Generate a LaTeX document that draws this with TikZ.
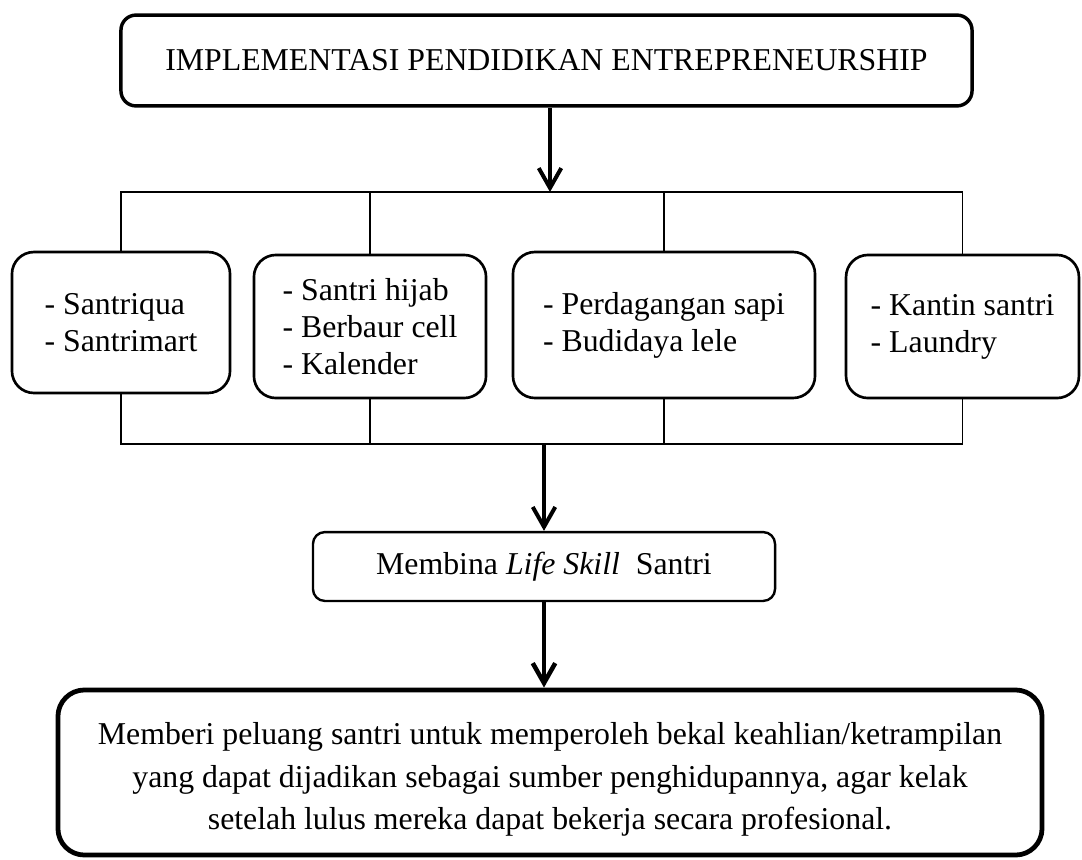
\documentclass[tikz,border=0pt]{standalone}
\usepackage{fontspec}
\setmainfont{Liberation Serif}
\usetikzlibrary{arrows.meta}
\begin{document}
\begin{tikzpicture}[x=0.3774pt,y=-0.3774pt,
		teks/.style={font=\fontsize{12}{14}\selectfont},
		kotak/.style={draw,teks,rounded corners=8.3pt,line width=1pt,inner sep=0pt,align=left},
		panah/.style={-{Straight Barb[length=7.5pt,width=8.5pt]},line width=1.5pt},
		garis/.style={line width=0.6pt}]
	\useasboundingbox[fill=white] (0,0) rectangle (1082,860);
	% kotak utama
	\node[draw,teks,rounded corners=5.7pt,line width=1.3pt,minimum width=321.2pt,minimum height=34.3pt] (utama) at (546.5,60.5) {IMPLEMENTASI PENDIDIKAN ENTREPRENEURSHIP};
	% kegiatan usaha
	\node[kotak,minimum width=82.3pt,minimum height=53.2pt] (usaha1) at (121,322.5) {- Santriqua\\- Santrimart};
	\node[kotak,minimum width=87.6pt,minimum height=54pt] (usaha2) at (370,326.5) {- Santri hijab\\- Berbaur cell\\- Kalender};
	\node[kotak,minimum width=114pt,minimum height=55.1pt] (usaha3) at (664,325) {- Perdagangan sapi\\- Budidaya lele};
	\node[kotak,minimum width=87.9pt,minimum height=54pt] (usaha4) at (962.5,326.5) {- Kantin santri\\- Laundry};
	% hasil
	\node[draw,teks,rounded corners=4.5pt,line width=0.9pt,minimum width=174.4pt,minimum height=26pt] (bina) at (544,566.5) {Membina \textit{Life Skill}~ Santri};
	\node[draw,teks,rounded corners=10pt,line width=1.8pt,minimum width=371.4pt,minimum height=62.3pt,align=center,font=\fontsize{12}{16}\selectfont] (tujuan) at (550,772.5) {\rule{0pt}{13.5pt}Memberi peluang santri untuk memperoleh bekal keahlian/ketrampilan\\yang dapat dijadikan sebagai sumber penghidupannya, agar kelak\\setelah lulus mereka dapat bekerja secara profesional.};
	\coordinate (atas) at (550,192);
	\coordinate (bawah) at (546,444);
	% garis penghubung
	\draw[panah] (utama.south -| atas) -- (atas);
	\draw[garis] (usaha1.north) |- (usaha4.north |- atas) -- (usaha4.north);
	\draw[garis] (usaha2.north) -- (usaha2.north |- atas);
	\draw[garis] (usaha3.north) -- (usaha3.north |- atas);
	\draw[garis] (usaha1.south) |- (usaha4.south |- bawah) -- (usaha4.south);
	\draw[garis] (usaha2.south) -- (usaha2.south |- bawah);
	\draw[garis] (usaha3.south) -- (usaha3.south |- bawah);
	\draw[panah] (bina.north |- bawah) -- (bina.north);
	\draw[panah,line width=1.7pt] (bina.south) -- (bina.south |- tujuan.north);
\end{tikzpicture}
\end{document}
